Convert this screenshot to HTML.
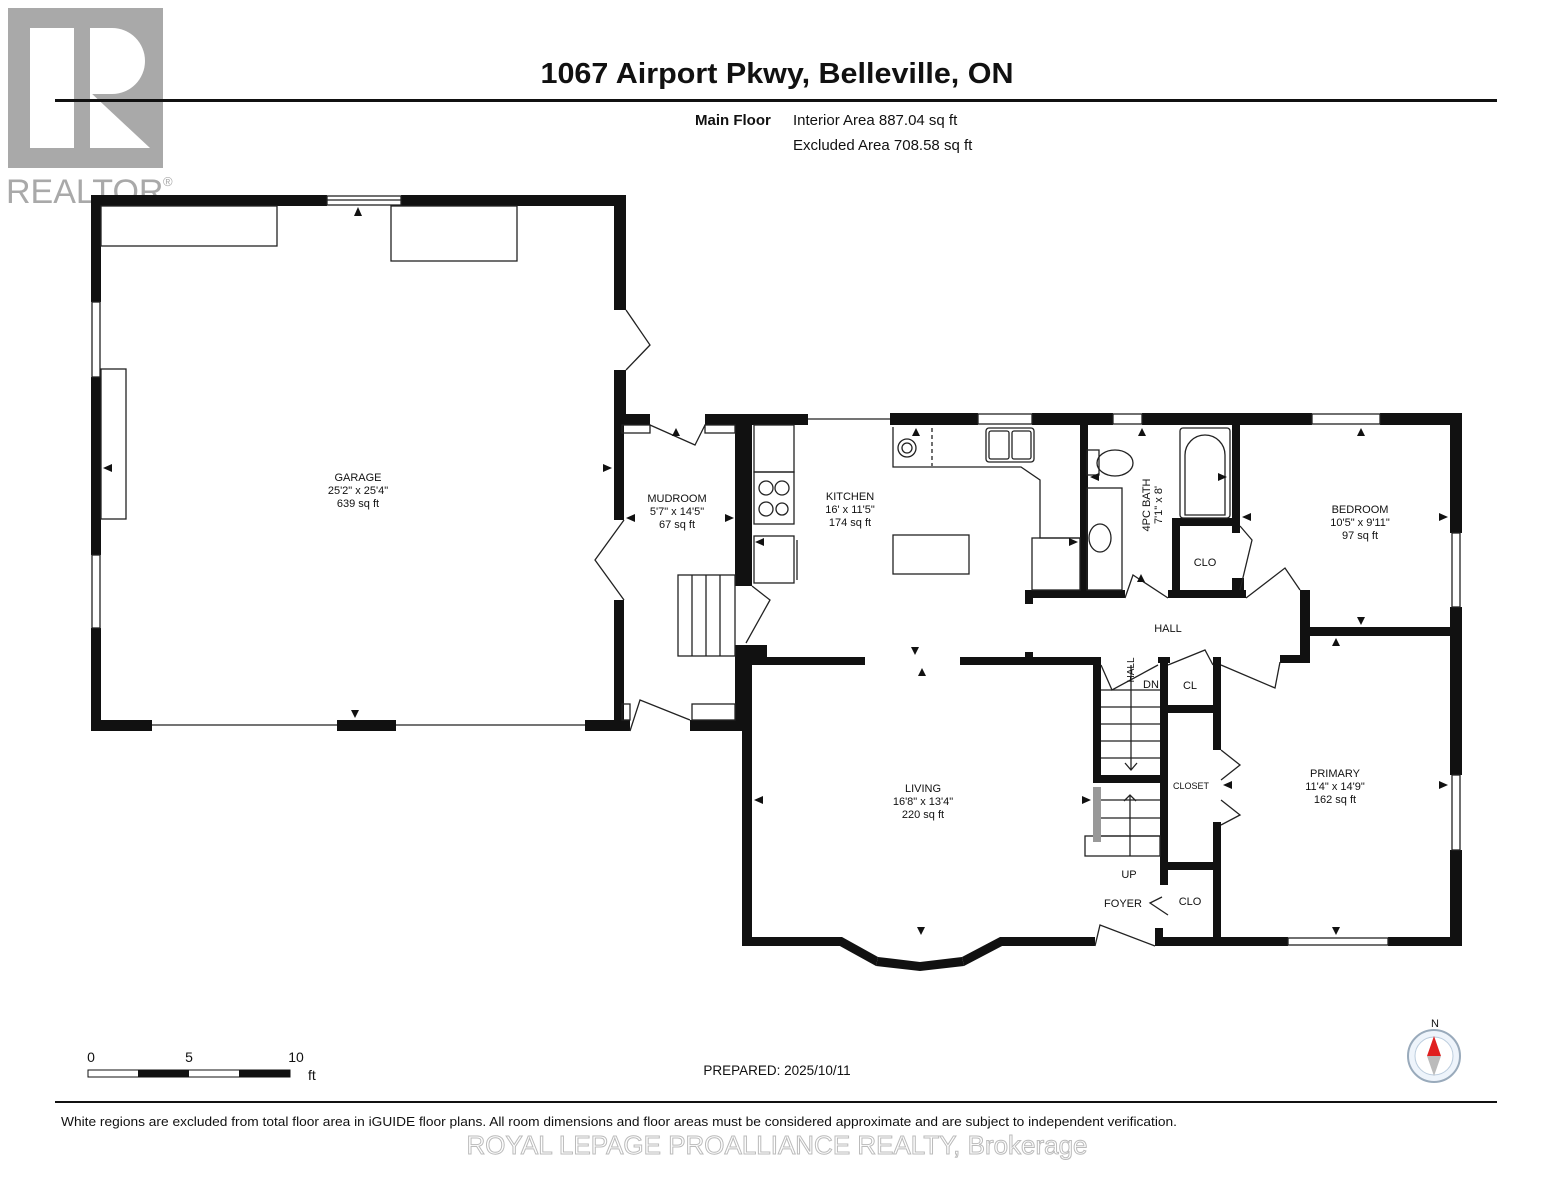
<!DOCTYPE html>
<html><head><meta charset="utf-8"><style>
html,body{margin:0;padding:0;background:#fff;width:1553px;height:1200px;overflow:hidden}
svg{display:block}
text{font-family:"Liberation Sans",Arial,sans-serif;fill:#111}
</style></head><body>
<svg width="1553" height="1200" viewBox="0 0 1553 1200" xmlns="http://www.w3.org/2000/svg">
<!-- logo -->
<rect x="8" y="8" width="155" height="160" fill="#a9a9a9"/>
<rect x="30" y="28" width="44" height="120" fill="#fff"/>
<path d="M90 28 H112 A33 33 0 0 1 112 94 H90 Z" fill="#fff"/>
<path d="M90 92 L150 148 H90 Z" fill="#fff"/>
<text x="6" y="203" font-size="34" style="fill:#a9a9a9">REALTOR</text>
<text x="163" y="186" font-size="13" style="fill:#a9a9a9">®</text>

<text x="777" y="83" font-size="29" font-weight="bold" text-anchor="middle" textLength="473" lengthAdjust="spacingAndGlyphs">1067 Airport Pkwy, Belleville, ON</text>
<rect x="55" y="99" width="1442" height="3" fill="#111"/>
<text x="695" y="125" font-size="15" font-weight="bold">Main Floor</text>
<text x="793" y="125" font-size="15">Interior Area 887.04 sq ft</text>
<text x="793" y="150" font-size="15">Excluded Area 708.58 sq ft</text>

<g fill="#111">
<!-- garage -->
<rect x="91" y="195" width="236" height="11"/><rect x="401" y="195" width="225" height="11"/>
<rect x="91" y="195" width="10" height="107"/><rect x="91" y="377" width="10" height="178"/><rect x="91" y="628" width="10" height="103"/>
<rect x="614" y="195" width="12" height="115"/><rect x="614" y="370" width="12" height="55"/><rect x="614" y="425" width="10" height="95"/><rect x="614" y="600" width="10" height="131"/>
<rect x="91" y="720" width="61" height="11"/><rect x="337" y="720" width="59" height="11"/><rect x="585" y="720" width="45" height="11"/>
<!-- mudroom -->
<rect x="614" y="414" width="36" height="11"/><rect x="705" y="414" width="103" height="11"/>
<rect x="735" y="414" width="17" height="172"/><rect x="735" y="645" width="17" height="86"/>
<rect x="690" y="720" width="52" height="11"/>
<!-- kitchen top -->
<rect x="890" y="413" width="88" height="12"/><rect x="1032" y="413" width="81" height="12"/><rect x="1142" y="413" width="170" height="12"/><rect x="1380" y="413" width="82" height="12"/>
<rect x="1450" y="413" width="12" height="120"/><rect x="1450" y="607" width="12" height="168"/><rect x="1450" y="850" width="12" height="96"/>
<!-- bath / bed -->
<rect x="1080" y="425" width="8" height="172"/><rect x="1025" y="590" width="100" height="8"/><rect x="1025" y="590" width="8" height="14"/>
<rect x="1168" y="590" width="78" height="8"/><rect x="1232" y="425" width="8" height="108"/><rect x="1172" y="520" width="8" height="78"/><rect x="1172" y="518" width="68" height="8"/><rect x="1232" y="578" width="12" height="20"/>
<rect x="1300" y="590" width="10" height="72"/><rect x="1280" y="655" width="30" height="8"/><rect x="1310" y="627" width="152" height="9"/>
<!-- living -->
<rect x="742" y="645" width="10" height="301"/><rect x="742" y="645" width="25" height="20"/>
<rect x="752" y="657" width="113" height="8"/><rect x="960" y="657" width="135" height="8"/><rect x="1025" y="652" width="8" height="6"/>
<rect x="1093" y="657" width="8" height="123"/><rect x="1093" y="775" width="72" height="8"/><rect x="1160" y="657" width="8" height="228"/><rect x="1158" y="657" width="12" height="6"/>
<rect x="1213" y="657" width="8" height="93"/><rect x="1168" y="705" width="53" height="8"/><rect x="1213" y="822" width="8" height="118"/><rect x="1168" y="862" width="53" height="8"/>
<rect x="742" y="937" width="100" height="9"/><rect x="1000" y="937" width="95" height="9"/><rect x="1155" y="937" width="133" height="9"/><rect x="1388" y="937" width="74" height="9"/><rect x="1155" y="928" width="8" height="12"/>
<!-- bay -->
<polygon points="842,937 878,957 876,966 838,945" /><polygon points="878,957 920,962 920,971 876,966"/><polygon points="920,962 962,957 964,966 920,971"/><polygon points="962,957 1000,937 1004,945 964,966"/>
</g>
<!-- thin lines -->
<g fill="none" stroke="#222" stroke-width="1.3">
<line x1="152" y1="725" x2="337" y2="725"/><line x1="396" y1="725" x2="585" y2="725"/>
<line x1="808" y1="419" x2="890" y2="419"/>
<rect x="327" y="196" width="74" height="9"/><line x1="327" y1="200" x2="401" y2="200"/>
<rect x="92" y="302" width="8" height="75"/><rect x="92" y="555" width="8" height="73"/>
<rect x="978" y="414" width="54" height="10"/><rect x="1113" y="414" width="29" height="10"/><rect x="1312" y="414" width="68" height="10"/>
<rect x="1452" y="533" width="8" height="74"/><rect x="1452" y="775" width="8" height="75"/>
<rect x="1288" y="938" width="100" height="7"/>
<rect x="101" y="206" width="176" height="40"/><rect x="391" y="206" width="126" height="55"/>
<rect x="101" y="369" width="25" height="150"/>
<!-- doors -->
<path d="M626 310 L650 345 L626 370"/>
<path d="M624 520 L595 560 L624 600"/>
<path d="M650 425 L695 445 L705 425"/>
<path d="M752 586 L770 600 L746 643"/>
<path d="M630 731 L640 700 L690 720"/>
<!-- mudroom stairs -->
<rect x="678" y="575" width="57" height="81"/><line x1="692" y1="575" x2="692" y2="656"/><line x1="706" y1="575" x2="706" y2="656"/><line x1="720" y1="575" x2="720" y2="656"/>
<rect x="622" y="425" width="28" height="8"/><rect x="705" y="425" width="30" height="8"/><rect x="622" y="704" width="8" height="16"/><rect x="692" y="704" width="43" height="16"/>
<!-- kitchen fixtures -->
<rect x="754" y="425" width="40" height="47"/><rect x="754" y="472" width="40" height="52"/><rect x="754" y="536" width="40" height="47"/><line x1="797" y1="540" x2="797" y2="580"/>
<circle cx="766" cy="488" r="7"/><circle cx="782" cy="488" r="7"/><circle cx="766" cy="509" r="7"/><circle cx="782" cy="509" r="6"/>
<rect x="893" y="535" width="76" height="39"/>
<path d="M893 427 V467 H1021 L1040 480 V538 H1080"/><rect x="1032" y="538" width="48" height="52"/>
<rect x="986" y="428" width="48" height="34" rx="3"/><rect x="989" y="431" width="20" height="28" rx="2"/><rect x="1012" y="431" width="19" height="28" rx="2"/>
<circle cx="907" cy="448" r="9"/><circle cx="907" cy="448" r="5"/><line x1="932" y1="428" x2="932" y2="466" stroke-dasharray="4,3"/>
<!-- bath -->
<rect x="1180" y="428" width="50" height="90" rx="3"/><path d="M1185 515 V455 A20 20 0 0 1 1225 455 V515 Z"/>
<rect x="1087" y="450" width="12" height="25"/><ellipse cx="1115" cy="463" rx="18" ry="13"/>
<rect x="1087" y="488" width="35" height="102"/><ellipse cx="1100" cy="538" rx="11" ry="14"/>
<path d="M1125 598 L1133 575 L1168 598"/><path d="M1240 590 L1252 540 L1240 526"/><path d="M1246 598 L1285 568 L1300 590"/>
<!-- hall doors -->
<path d="M1168 665 L1205 650 L1213 665"/><path d="M1221 665 L1275 688 L1280 662"/>
<path d="M1101 665 L1112 690 L1158 665"/>
<path d="M1221 750 L1240 765 L1221 780"/><path d="M1221 800 L1240 815 L1221 825"/>
<path d="M1095 946 L1100 925 L1155 946"/><path d="M1168 915 L1150 903 L1162 897"/>
<!-- stairs -->
<line x1="1101" y1="690" x2="1160" y2="690"/><line x1="1101" y1="707" x2="1160" y2="707"/><line x1="1101" y1="724" x2="1160" y2="724"/><line x1="1101" y1="741" x2="1160" y2="741"/><line x1="1101" y1="758" x2="1160" y2="758"/>
<line x1="1131" y1="665" x2="1131" y2="770"/><path d="M1125 763 L1131 770 L1137 763"/>
<line x1="1101" y1="800" x2="1160" y2="800"/><line x1="1101" y1="818" x2="1160" y2="818"/><line x1="1101" y1="836" x2="1160" y2="836"/>
<line x1="1130" y1="795" x2="1130" y2="856"/><path d="M1124 801 L1130 795 L1136 801"/>
<rect x="1085" y="836" width="75" height="20"/>
</g>
<rect x="1093" y="787" width="8" height="55" fill="#999"/>
<!-- arrows -->
<g fill="#111">
<path d="M358 207 l-4 9 h8z"/><path d="M103 468 l9 -4 v8z"/><path d="M612 468 l-9 -4 v8z"/><path d="M355 718 l-4 -8 h8z"/>
<path d="M626 518 l9 -4 v8z"/><path d="M734 518 l-9 -4 v8z"/><path d="M676 428 l-4 8 h8z"/>
<path d="M755 542 l9 -4 v8z"/><path d="M915 655 l-4 -8 h8z"/><path d="M922 668 l-4 8 h8z"/><path d="M916 428 l-4 8 h8z"/>
<path d="M1078 542 l-9 -4 v8z"/><path d="M1090 477 l9 -4 v8z"/><path d="M1142 428 l-4 8 h8z"/><path d="M1227 477 l-9 -4 v8z"/>
<path d="M1242 517 l9 -4 v8z"/><path d="M1448 517 l-9 -4 v8z"/><path d="M1361 428 l-4 8 h8z"/><path d="M1361 625 l-4 -8 h8z"/>
<path d="M1336 638 l-4 8 h8z"/><path d="M1448 785 l-9 -4 v8z"/><path d="M1223 785 l9 -4 v8z"/><path d="M1336 935 l-4 -8 h8z"/>
<path d="M754 800 l9 -4 v8z"/><path d="M1091 800 l-9 -4 v8z"/><path d="M921 935 l-4 -8 h8z"/><path d="M1141 574 l-4 8 h8z"/>
</g>
<!-- labels -->
<g font-size="11" text-anchor="middle">
<text x="358" y="481">GARAGE</text><text x="358" y="494">25'2" x 25'4"</text><text x="358" y="507">639 sq ft</text>
<text x="677" y="502">MUDROOM</text><text x="677" y="515">5'7" x 14'5"</text><text x="677" y="528">67 sq ft</text>
<text x="850" y="500">KITCHEN</text><text x="850" y="513">16' x 11'5"</text><text x="850" y="526">174 sq ft</text>
<text x="1360" y="513">BEDROOM</text><text x="1360" y="526">10'5" x 9'11"</text><text x="1360" y="539">97 sq ft</text>
<text x="1335" y="777">PRIMARY</text><text x="1335" y="790">11'4" x 14'9"</text><text x="1335" y="803">162 sq ft</text>
<text x="923" y="792">LIVING</text><text x="923" y="805">16'8" x 13'4"</text><text x="923" y="818">220 sq ft</text>
<text x="1205" y="566">CLO</text><text x="1168" y="632">HALL</text><text x="1151" y="688">DN</text><text x="1190" y="689">CL</text>
<text x="1191" y="789" font-size="9">CLOSET</text><text x="1129" y="878">UP</text><text x="1123" y="907">FOYER</text><text x="1190" y="905">CLO</text>
<text transform="translate(1150,505) rotate(-90)">4PC BATH</text><text transform="translate(1162,505) rotate(-90)">7'1" x 8'</text>
<text transform="translate(1134,670) rotate(-90)" font-size="10">HALL</text>
</g>
<!-- scale -->
<text x="91" y="1062" font-size="14" text-anchor="middle">0</text><text x="189" y="1062" font-size="14" text-anchor="middle">5</text><text x="296" y="1062" font-size="14" text-anchor="middle">10</text><text x="308" y="1080" font-size="14">ft</text>
<rect x="88" y="1070" width="202" height="7" fill="#fff" stroke="#111"/><rect x="138" y="1070" width="51" height="7" fill="#111"/><rect x="239" y="1070" width="51" height="7" fill="#111"/>
<text x="777" y="1075" font-size="13.5" text-anchor="middle">PREPARED: 2025/10/11</text>
<!-- compass -->
<text x="1435" y="1027" font-size="11" text-anchor="middle">N</text>
<circle cx="1434" cy="1056" r="26" fill="#eef4fb" stroke="#9ab" stroke-width="2"/>
<circle cx="1434" cy="1056" r="19" fill="#fff" stroke="#bcd"/>
<path d="M1434 1036 L1441 1056 H1427Z" fill="#e02020"/><path d="M1434 1076 L1441 1056 H1427Z" fill="#bbb"/>
<rect x="55" y="1101" width="1442" height="2" fill="#111"/>
<text x="61" y="1126" font-size="13" textLength="1116" lengthAdjust="spacingAndGlyphs">White regions are excluded from total floor area in iGUIDE floor plans. All room dimensions and floor areas must be considered approximate and are subject to independent verification.</text>
<text x="777" y="1154" font-size="26" text-anchor="middle" textLength="621" lengthAdjust="spacingAndGlyphs" style="fill:#fff;stroke:#bbb;stroke-width:1">ROYAL LEPAGE PROALLIANCE REALTY, Brokerage</text>
</svg>
</body></html>
